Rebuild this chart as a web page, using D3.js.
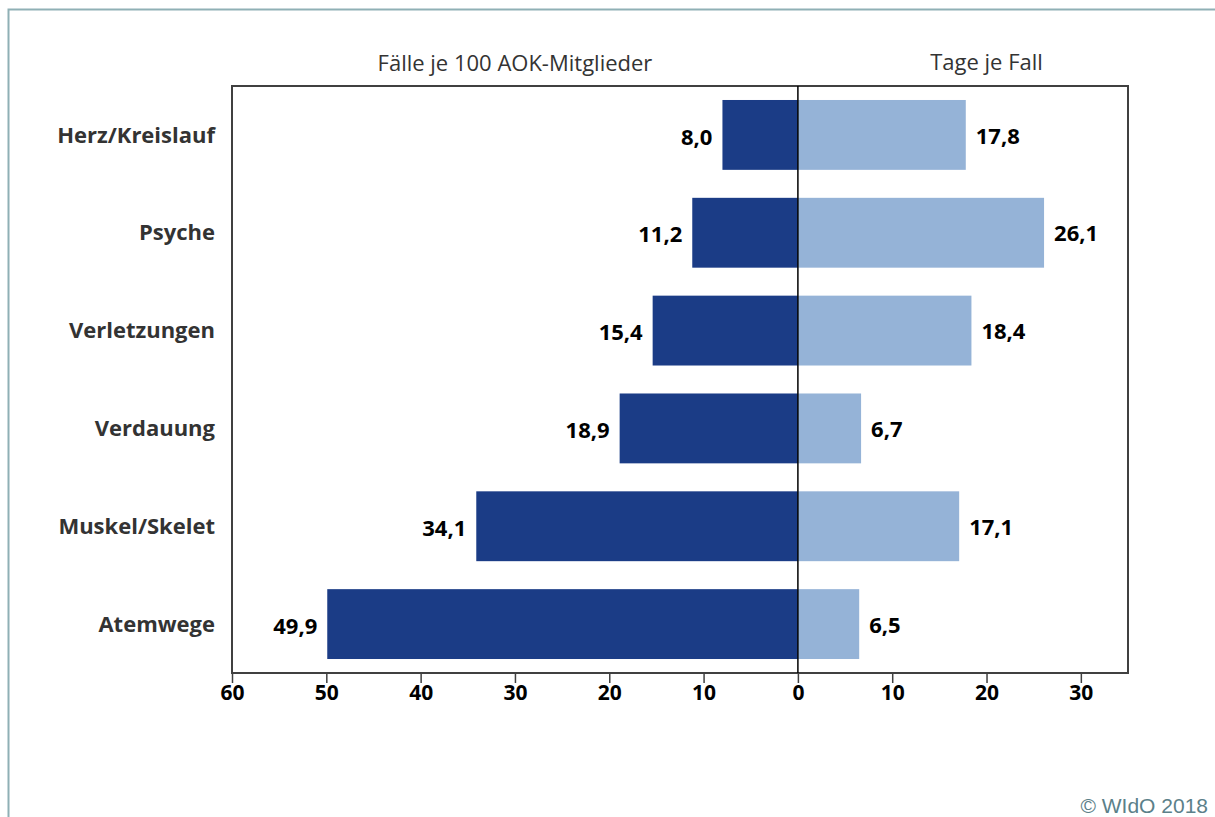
<!DOCTYPE html>
<html>
<head>
<meta charset="utf-8">
<script src="https://cdn.jsdelivr.net/npm/d3@7"></script>
<style>
  body { margin: 0; background: #fff; }
  svg { display: block; }
</style>
</head>
<body>
<svg id="chart"></svg>
<script>
// data
var categories = ['Herz/Kreislauf', 'Psyche', 'Verletzungen', 'Verdauung', 'Muskel/Skelet', 'Atemwege'];
var faelle = [8.0, 11.2, 15.4, 18.9, 34.1, 49.9];   // Fälle je 100 AOK-Mitglieder (links)
var tage = [17.8, 26.1, 18.4, 6.7, 17.1, 6.5];      // Tage je Fall (rechts)
var tickValues = [-60, -50, -40, -30, -20, -10, 0, 10, 20, 30];

var width = 1215, height = 817;
var box = { left: 232, top: 86, right: 1128, bottom: 673 };
var font = '"Open Sans", "Noto Sans", sans-serif';

var svg = d3.select('#chart').attr('width', width).attr('height', height);

// outer frame (teal-grey)
svg.append('path')
	.attr('d', 'M8.5,' + height + ' V9.5 H' + width)
	.attr('fill', 'none')
	.attr('stroke', '#8fb0b5')
	.attr('stroke-width', 2);

// Scales
var x = d3.scaleLinear().domain([-60, 35]).range([box.left, box.right]);
var y = d3.scaleBand()
	.domain(categories)
	.range([box.top, box.bottom])
	.paddingInner(0.286)
	.paddingOuter(0.143);

var rows = categories.map(function (c, i) {
	return { cat: c, left: faelle[i], right: tage[i] };
});
var fmt = function (v) { return d3.format('.1f')(v).replace('.', ','); };

// plot frame
svg.append('rect')
	.attr('x', box.left)
	.attr('y', box.top)
	.attr('width', box.right - box.left)
	.attr('height', box.bottom - box.top)
	.attr('fill', 'none')
	.attr('stroke', '#404040')
	.attr('stroke-width', 2);

// left bars
svg.selectAll('rect.links').data(rows).enter().append('rect')
	.attr('class', 'links')
	.attr('x', function (d) { return x(-d.left); })
	.attr('y', function (d) { return y(d.cat); })
	.attr('width', function (d) { return x(0) - x(-d.left); })
	.attr('height', y.bandwidth())
	.attr('fill', '#1b3c86');

// right bars
svg.selectAll('rect.rechts').data(rows).enter().append('rect')
	.attr('class', 'rechts')
	.attr('x', x(0))
	.attr('y', function (d) { return y(d.cat); })
	.attr('width', function (d) { return x(d.right) - x(0); })
	.attr('height', y.bandwidth())
	.attr('fill', '#95b3d7');

// zero line
svg.append('line')
	.attr('x1', x(0)).attr('x2', x(0))
	.attr('y1', box.top).attr('y2', box.bottom)
	.attr('stroke', '#000')
	.attr('stroke-width', 1.5);

// value labels
svg.selectAll('text.vl').data(rows).enter().append('text')
	.attr('class', 'vl')
	.attr('x', function (d) { return x(-d.left) - 10; })
	.attr('y', function (d) { return y(d.cat) + y.bandwidth() / 2 + 2; })
	.attr('dy', '0.35em')
	.attr('text-anchor', 'end')
	.style('font', 'bold 22px ' + font)
	.attr('fill', '#000')
	.text(function (d) { return fmt(d.left); });

svg.selectAll('text.vr').data(rows).enter().append('text')
	.attr('class', 'vr')
	.attr('x', function (d) { return x(d.right) + 10; })
	.attr('y', function (d) { return y(d.cat) + y.bandwidth() / 2 + 1; })
	.attr('dy', '0.35em')
	.attr('text-anchor', 'start')
	.style('font', 'bold 22px ' + font)
	.attr('fill', '#000')
	.text(function (d) { return fmt(d.right); });

// category labels
svg.selectAll('text.cat').data(rows).enter().append('text')
	.attr('class', 'cat')
	.attr('x', box.left - 17)
	.attr('y', function (d) { return y(d.cat) + y.bandwidth() / 2; })
	.attr('dy', '0.35em')
	.attr('text-anchor', 'end')
	.style('font', 'bold 22px ' + font)
	.attr('fill', '#333')
	.text(function (d) { return d.cat; });

// x axis
var xAxis = d3.axisBottom(x)
	.tickValues(tickValues)
	.tickSize(10)
	.tickSizeOuter(0)
	.tickPadding(2)
	.tickFormat(function (d) { return Math.abs(d); });
var gx = svg.append('g')
	.attr('transform', 'translate(0,' + box.bottom + ')')
	.call(xAxis);
gx.select('.domain').remove();
gx.selectAll('line').attr('stroke', '#404040').attr('stroke-width', 1.5);
gx.selectAll('text')
	.style('font', 'bold 21px ' + font)
	.attr('fill', '#000');

// headers
svg.append('text')
	.attr('x', x(-30))
	.attr('y', 63)
	.attr('dy', '0.35em')
	.attr('text-anchor', 'middle')
	.style('font', '22px ' + font)
	.attr('fill', '#333')
	.text('Fälle je 100 AOK-Mitglieder');

svg.append('text')
	.attr('x', x(20))
	.attr('y', 62)
	.attr('dy', '0.35em')
	.attr('text-anchor', 'middle')
	.style('font', '22px ' + font)
	.attr('fill', '#333')
	.text('Tage je Fall');

// copyright
svg.append('text')
	.attr('x', 1208)
	.attr('y', 806)
	.attr('dy', '0.35em')
	.attr('text-anchor', 'end')
	.style('font', '21px "Liberation Sans", Arial, sans-serif')
	.attr('fill', '#5b8089')
	.text('© WIdO 2018');
</script>
</body>
</html>
